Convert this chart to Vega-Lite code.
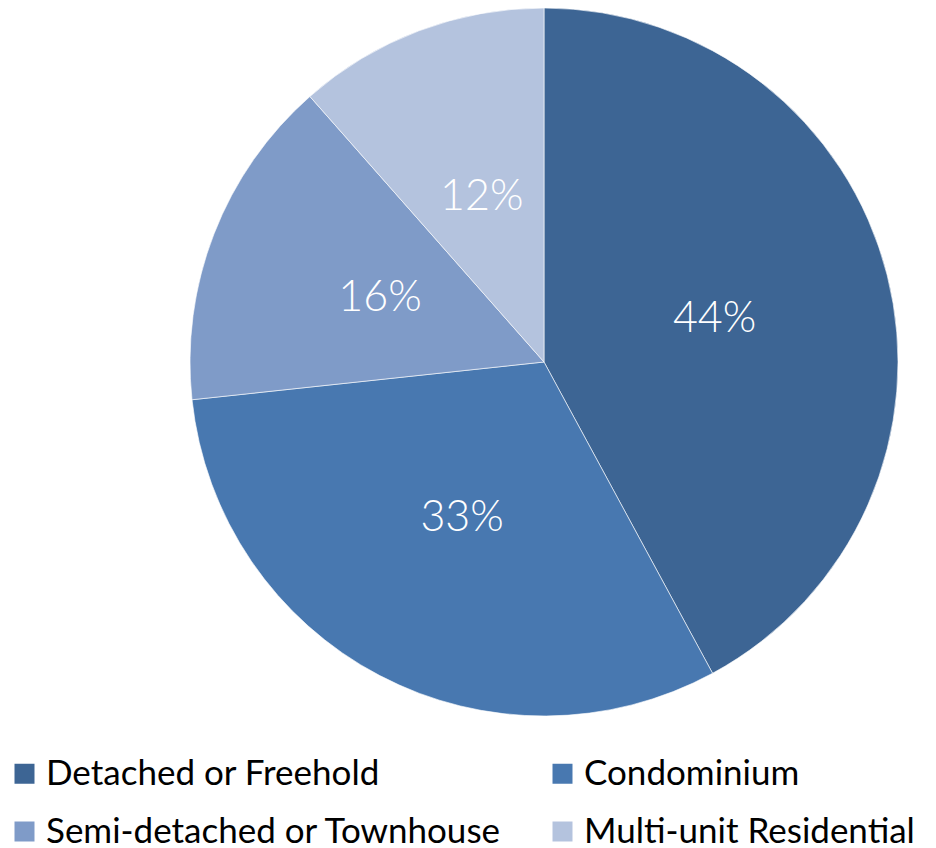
{
  "$schema": "https://vega.github.io/schema/vega-lite/v6.json",
  "width": 708,
  "height": 708,
  "autosize": {"type": "none"},
  "padding": {"left": 190, "top": 8, "right": 38, "bottom": 132},
  "background": "white",
  "config": {"view": {"stroke": null}},
  "data": {
    "values": [
      {"category": "Detached or Freehold", "value": 42.1, "label": "44%", "order": 1},
      {"category": "Condominium", "value": 31.2, "label": "33%", "order": 2},
      {"category": "Semi-detached or Townhouse", "value": 15.2, "label": "16%", "order": 3},
      {"category": "Multi-unit Residential", "value": 11.5, "label": "12%", "order": 4}
    ]
  },
  "encoding": {
    "theta": {"field": "value", "type": "quantitative", "stack": true},
    "order": {"field": "order", "type": "quantitative"}
  },
  "layer": [
    {
      "mark": {"type": "arc", "outerRadius": 354, "stroke": "white", "strokeWidth": 1, "strokeOpacity": 0.6},
      "encoding": {
        "color": {
          "field": "category",
          "type": "nominal",
          "sort": ["Detached or Freehold", "Condominium", "Semi-detached or Townhouse", "Multi-unit Residential"],
          "scale": {
            "domain": ["Detached or Freehold", "Condominium", "Semi-detached or Townhouse", "Multi-unit Residential"],
            "range": ["#3D6594", "#4878B0", "#7F9BC8", "#B4C3DE"]
          },
          "legend": {
            "title": null,
            "orient": "none",
            "direction": "horizontal",
            "padding": 0,
            "legendX": -183,
            "legendY": 748,
            "columns": 2,
            "columnPadding": 43,
            "rowPadding": 22,
            "symbolType": "square",
            "symbolSize": 400,
            "symbolStrokeWidth": 0,
            "labelFont": "Lato",
            "labelFontSize": 35,
            "labelColor": "#000000",
            "labelOffset": 4,
            "labelLimit": 600
          }
        }
      }
    },
    {
      "mark": {"type": "text", "radius": 176, "fontSize": 43, "font": "Lato", "fontWeight": 300, "fill": "white"},
      "encoding": {
        "text": {"field": "label", "type": "nominal"}
      }
    }
  ]
}
